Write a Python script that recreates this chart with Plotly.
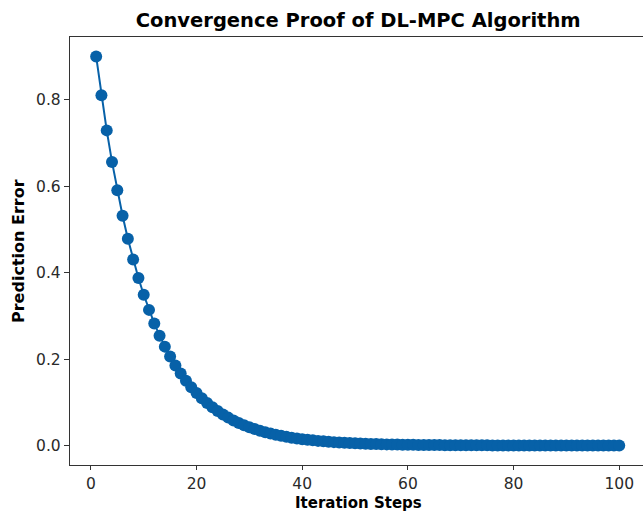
import plotly.graph_objects as go

steps = list(range(1, 101))
errors = [
    0.9, 0.81, 0.729, 0.6561, 0.5905, 0.5314, 0.4783, 0.4305, 0.3874, 0.3487,
    0.3138, 0.2824, 0.2542, 0.2288, 0.2059, 0.1853, 0.1668, 0.1501, 0.1351, 0.1216,
    0.1094, 0.0985, 0.0886, 0.0798, 0.0718, 0.0646, 0.0581, 0.0523, 0.0471, 0.0424,
    0.0382, 0.0343, 0.0309, 0.0278, 0.0250, 0.0225, 0.0203, 0.0182, 0.0164, 0.0148,
    0.0133, 0.0120, 0.0108, 0.0097, 0.0087, 0.0079, 0.0071, 0.0064, 0.0057, 0.0052,
    0.0046, 0.0042, 0.0038, 0.0034, 0.0030, 0.0027, 0.0025, 0.0022, 0.0020, 0.0018,
    0.0016, 0.0015, 0.0013, 0.0012, 0.0011, 0.0010, 0.0009, 0.0008, 0.0007, 0.0006,
    0.0006, 0.0005, 0.0005, 0.0004, 0.0004, 0.0003, 0.0003, 0.0003, 0.0002, 0.0002,
    0.0002, 0.0002, 0.0002, 0.0001, 0.0001, 0.0001, 0.0001, 0.0001, 0.0001, 0.0001,
    0.0001, 0.0001, 0.0001, 0.0001, 0.0001, 0.0000, 0.0000, 0.0000, 0.0000, 0.0000,
]
x_ticks = [0, 20, 40, 60, 80, 100]
y_ticks = [0.0, 0.2, 0.4, 0.6, 0.8]
y_tick_text = ["0.0", "0.2", "0.4", "0.6", "0.8"]

color = "#0761a8"
font = "DejaVu Sans"

fig = go.Figure()
fig.add_trace(go.Scatter(
    x=steps, y=errors, mode="lines+markers",
    line=dict(color=color, width=2),
    marker=dict(color=color, size=12),
    showlegend=False,
))

fig.update_layout(
    width=643, height=513,
    margin=dict(l=70, r=0, t=37, b=48),
    paper_bgcolor="white", plot_bgcolor="white",
    font=dict(family=font, size=15.5, color="#2a2a2a"),
    title=dict(text="<b>Convergence Proof of DL-MPC Algorithm</b>",
               x=0.503, xref="paper", xanchor="center",
               y=1 - 20 / 513, yref="container", yanchor="middle",
               font=dict(family=font, size=19.5, color="black")),
    xaxis=dict(range=[-3.95, 104.5], tickvals=x_ticks, ticks="outside",
               ticklen=4, tickwidth=1.2, tickcolor="#333", showgrid=False,
               zeroline=False, showline=True, linecolor="#333", linewidth=1.4,
               mirror=True),
    yaxis=dict(range=[-0.045, 0.945], tickvals=y_ticks, ticktext=y_tick_text,
               ticks="outside", ticklen=5, tickwidth=1.2, tickcolor="#333",
               showgrid=False, zeroline=False, showline=True,
               linecolor="#333", linewidth=1.4, mirror=False),
)

fig.add_annotation(text="<b>Iteration Steps</b>", xref="paper", yref="paper",
                   x=0.503, y=0, yshift=-38, yanchor="middle", showarrow=False,
                   font=dict(family=font, size=15, color="black"))
fig.add_annotation(text="<b>Prediction Error</b>", xref="paper", yref="paper",
                   x=0, xshift=-52, y=0.5, xanchor="center", textangle=-90,
                   showarrow=False,
                   font=dict(family=font, size=16, color="black"))

fig.write_html("out.html")
